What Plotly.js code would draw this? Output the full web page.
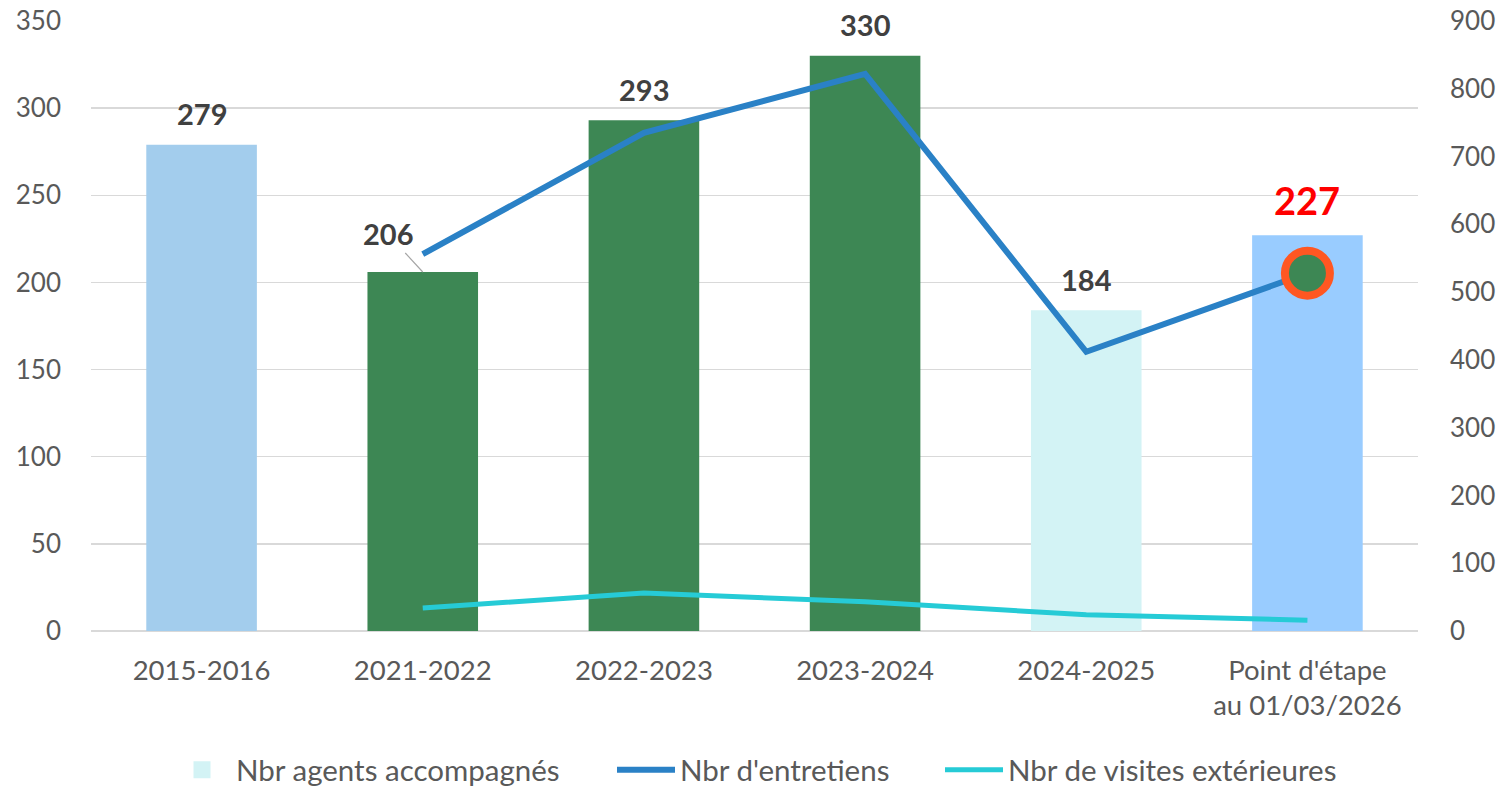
<!DOCTYPE html>
<html><head><meta charset="utf-8">
<script src="https://cdn.plot.ly/plotly-3.0.1.min.js"></script>
<style>html,body{margin:0;padding:0;background:#fff}#c{width:1505px;height:789px}</style>
</head><body><div id="c"></div>
<script>
// Data
const categories = ['2015-2016','2021-2022','2022-2023','2023-2024','2024-2025',"Point d'étape<br>au 01/03/2026"];
const agents = [279, 206, 293, 330, 184, 227];
const entretiens = [null, 556, 735, 822, 412, 528];
const visites = [null, 34, 56, 43, 24, 16];
const leftTicks = [0,50,100,150,200,250,300,350];
const rightTicks = [0,100,200,300,400,500,600,700,800,900];

// Styles
const barColors = ['#A3CDED','#3D8754','#3D8754','#3D8754','#D3F3F5','#99CCFF'];
const FONT = 'Lato, "Open Sans", "Noto Sans", sans-serif';

const traces = [
  {type:'bar', x:categories, y:agents, width:0.5, marker:{color:barColors}, showlegend:false, hoverinfo:'skip', yaxis:'y'},
  {type:'bar', x:[null], y:[null], name:'Nbr agents accompagnés', legend:'legend',
   marker:{color:'#D3F3F5', line:{color:'#D3F3F5', width:5}}, yaxis:'y'},
  {type:'scatter', mode:'lines', x:categories, y:entretiens, yaxis:'y2', name:"Nbr d'entretiens", legend:'legend2',
   line:{color:'#2A81C6', width:6}, connectgaps:false},
  {type:'scatter', mode:'lines', x:categories, y:visites, yaxis:'y2', name:'Nbr de visites extérieures', legend:'legend3',
   line:{color:'#26CBD6', width:5}},
  {type:'scatter', mode:'markers', x:[categories[5]], y:[entretiens[5]], yaxis:'y2', showlegend:false,
   marker:{size:45, color:'#3D8754', line:{color:'#FF5722', width:8}}, hoverinfo:'skip'}
];

const annotations = agents.map((v,i)=>{
  const last = i === agents.length-1;
  const a = {xref:'x', yref:'y', x:categories[i], y:v, text:String(v),
    font:{family:FONT, size: last?38:29, color: last?'#FF0000':'#404040', weight:700},
    showarrow:false, yanchor:'middle', yshift: last?35:31};
  if (i === 1) {
    Object.assign(a, {showarrow:true, ax:-35, ay:-38, arrowhead:0, arrowwidth:1.2, arrowcolor:'#A6A6A6', standoff:0, yshift:0});
  }
  return a;
});

function legendAt(px) {
  return {orientation:'h', xref:'container', x:px/1505, xanchor:'left', yref:'container', y:19/789, yanchor:'middle',
    font:{size:29.5, color:'#595959'}, itemwidth:58, bgcolor:'rgba(0,0,0,0)', borderwidth:0};
}

const layout = {
  width:1505, height:789,
  margin:{l:91, r:87, t:21, b:158, autoexpand:false},
  paper_bgcolor:'#fff', plot_bgcolor:'#fff',
  font:{family:FONT, color:'#595959', size:26},
  barmode:'overlay',
  xaxis:{type:'category', showgrid:false, showline:false, zeroline:false, ticks:'', automargin:false,
    tickfont:{size:27.5, color:'#595959'}, ticklabelstandoff:20, range:[-0.5,5.5]},
  yaxis:{range:[0,350], tickvals:leftTicks, showgrid:true, gridcolor:'#D9D9D9', gridwidth:1.5, automargin:false,
    zeroline:true, zerolinecolor:'#D9D9D9', zerolinewidth:1.5, showline:false, ticks:'',
    tickfont:{size:26, color:'#595959'}, ticklabelstandoff:29},
  yaxis2:{range:[0,900], tickvals:rightTicks, overlaying:'y', side:'right', showgrid:false, automargin:false,
    zeroline:false, showline:false, ticks:'', tickfont:{size:26, color:'#595959'}, ticklabelstandoff:31},
  legend: legendAt(168),
  legend2: legendAt(612),
  legend3: legendAt(940),
  annotations: annotations,
  showlegend:true
};

Plotly.newPlot('c', traces, layout, {displayModeBar:false, staticPlot:true});
</script></body></html>
